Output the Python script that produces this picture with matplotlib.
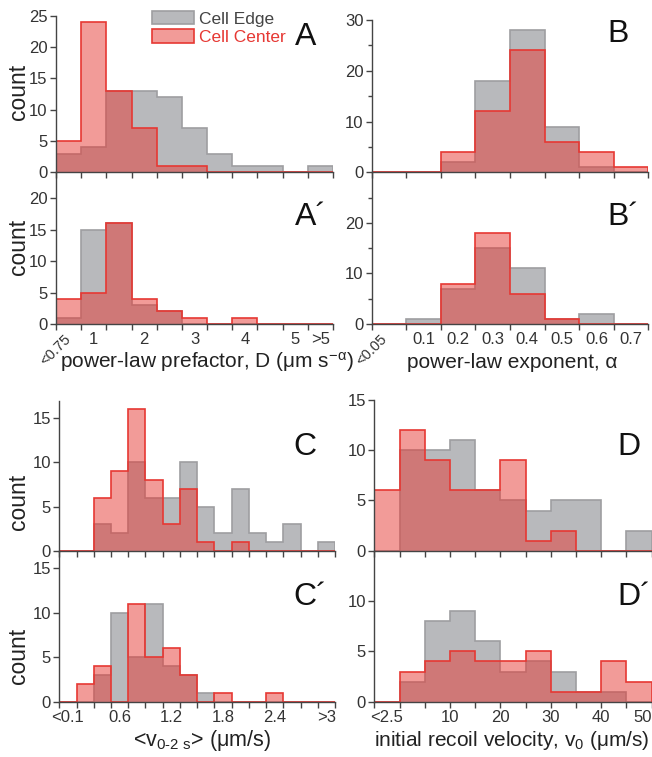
import numpy as np
import matplotlib
matplotlib.use('Agg')
import matplotlib.pyplot as plt
from matplotlib.patches import Patch

plt.rcParams['font.family'] = ['Liberation Sans', 'DejaVu Sans']
plt.rcParams['mathtext.fontset'] = 'custom'
plt.rcParams['mathtext.rm'] = 'Liberation Sans'
plt.rcParams['mathtext.it'] = 'Liberation Sans:italic'
plt.rcParams['mathtext.sf'] = 'Liberation Sans'

# bin edges (last/first bins collect the out-of-range values)
d_edges = np.linspace(0.25, 5.75, 12)
a_edges = np.linspace(-0.05, 0.75, 9)
vm_edges = np.linspace(-0.1, 3.1, 17)
v0_edges = np.linspace(-5, 50, 12)

# counts: cell edge vs cell center
d_edge_A = [3, 4, 13, 13, 12, 7, 3, 1, 1, 0, 1]
d_center_A = [5, 24, 13, 7, 1, 1, 0, 0, 0, 0, 0]
d_edge_A2 = [1, 15, 16, 3, 2, 0, 0, 0, 0, 0, 0]
d_center_A2 = [4, 5, 16, 4, 2, 1, 0, 1, 0, 0, 0]

a_edge_B = [0, 0, 2, 18, 28, 9, 1, 0]
a_center_B = [0, 0, 4, 12, 24, 6, 4, 1]
a_edge_B2 = [0, 1, 7, 15, 11, 1, 2, 0]
a_center_B2 = [0, 0, 8, 18, 6, 1, 0, 0]

vm_edge_C = [0, 0, 3, 2, 10, 6, 6, 10, 5, 2, 7, 2, 1, 3, 0, 1]
vm_center_C = [0, 0, 6, 9, 16, 8, 3, 7, 1, 0, 1, 0, 0, 0, 0, 0]
vm_edge_C2 = [0, 0, 3, 10, 5, 11, 4, 3, 1, 0, 0, 0, 0, 0, 0, 0]
vm_center_C2 = [0, 2, 4, 0, 11, 5, 6, 3, 0, 1, 0, 0, 1, 0, 0, 0]

v0_edge_D = [0, 10, 10, 11, 6, 5, 4, 5, 5, 0, 2]
v0_center_D = [6, 12, 9, 6, 6, 9, 1, 2, 0, 0, 0]
v0_edge_D2 = [0, 2, 8, 9, 6, 3, 4, 3, 1, 1, 0]
v0_center_D2 = [0, 3, 4, 5, 4, 4, 5, 1, 1, 4, 2]

# tick labels
d_ticks = [0.25, 1, 2, 3, 4, 5, 5.5]
d_labels = ['<0.75', '1', '2', '3', '4', '5', '>5']
a_ticks = [-0.05, 0.1, 0.2, 0.3, 0.4, 0.5, 0.6, 0.7]
a_labels = ['<0.05', '0.1', '0.2', '0.3', '0.4', '0.5', '0.6', '0.7']
vm_ticks = [0.0, 0.6, 1.2, 1.8, 2.4, 3.0]
vm_labels = ['<0.1', '0.6', '1.2', '1.8', '2.4', '>3']
v0_ticks = [-2.5, 10, 20, 30, 40, 48.3]
v0_labels = ['<2.5', '10', '20', '30', '40', '50']

GRAY_FILL = (0.45, 0.46, 0.48, 0.5)
GRAY_LINE = (0.62, 0.62, 0.63)
RED_FILL = (0.9, 0.22, 0.2, 0.5)
RED_LINE = (0.9, 0.22, 0.2)
AX_COL = '#444444'

W, H = 652, 757
fig = plt.figure(figsize=(W / 100, H / 100), dpi=100)


def box(left, right, bottom, top):
    return [left / W, 1 - bottom / H, (right - left) / W, (bottom - top) / H]


def panel(rect, edges, gray, red, ymax, yticks, yminor=None):
    ax = fig.add_axes(rect)
    ax.stairs(gray, edges, fill=True, facecolor=GRAY_FILL, edgecolor=GRAY_LINE, lw=1.2)
    ax.stairs(red, edges, fill=True, facecolor=RED_FILL, edgecolor=RED_LINE, lw=1.2)
    ax.set_xlim(edges[0], edges[-1])
    ax.set_ylim(0, ymax)
    for s in ['top', 'right']:
        ax.spines[s].set_visible(False)
    for s in ['left', 'bottom']:
        ax.spines[s].set_color(AX_COL)
        ax.spines[s].set_linewidth(1.0)
    ax.xaxis.remove_overlapping_locs = False
    ax.set_xticks(edges)
    ax.set_xticklabels([])
    ax.set_yticks(yticks)
    if yminor is not None:
        ax.set_yticks(yminor, minor=True)
    ax.tick_params(which='major', direction='out', length=4, width=1, color=AX_COL,
                   labelsize=12, labelcolor='#333333', pad=2)
    ax.tick_params(axis='y', which='minor', direction='out', length=3, width=1, color=AX_COL)
    ax.tick_params(axis='x', which='minor', length=0, labelsize=12, labelcolor='#333333', pad=6)
    ax.set_facecolor('none')
    return ax


def bottom_labels(ax, ticks, labels, rotate_first):
    ax.set_xticks(ticks, labels, minor=True)
    if rotate_first:
        first = ax.get_xticklabels(minor=True)[0]
        first.set_rotation(45)
        first.set_fontsize(10.5)


axA = panel(box(56, 333, 172.3, 15.7), d_edges, d_edge_A, d_center_A, 25, [0, 5, 10, 15, 20, 25])
axA2 = panel(box(56, 333, 324, 172.3), d_edges, d_edge_A2, d_center_A2, 24.15, [0, 5, 10, 15, 20])
bottom_labels(axA2, d_ticks, d_labels, True)

axB = panel(box(371.7, 648.3, 172.3, 20), a_edges, a_edge_B, a_center_B, 30, [0, 10, 20, 30], [5, 15, 25])
axB2 = panel(box(371.7, 648.3, 324, 172.3), a_edges, a_edge_B2, a_center_B2, 30, [0, 10, 20], [5, 15, 25])
bottom_labels(axB2, a_ticks, a_labels, True)

axC = panel(box(59.3, 335, 550.7, 400.6), vm_edges, vm_edge_C, vm_center_C, 17, [0, 5, 10, 15])
axC2 = panel(box(59.3, 335, 701.7, 550.7), vm_edges, vm_edge_C2, vm_center_C2, 17, [0, 5, 10, 15])
bottom_labels(axC2, vm_ticks, vm_labels, False)

axD = panel(box(374.3, 651.7, 550.7, 400), v0_edges, v0_edge_D, v0_center_D, 15, [0, 5, 10, 15])
axD2 = panel(box(374.3, 651.7, 701.7, 550.7), v0_edges, v0_edge_D2, v0_center_D2, 15, [0, 5, 10])
bottom_labels(axD2, v0_ticks, v0_labels, False)

# legend
handles = [Patch(facecolor=GRAY_FILL, edgecolor=GRAY_LINE, lw=1.2, label='Cell Edge'),
           Patch(facecolor=RED_FILL, edgecolor=RED_LINE, lw=1.2, label='Cell Center')]
leg = axA.legend(handles=handles, loc='upper left', bbox_to_anchor=(152 / W, 1 - 11 / H),
                 bbox_transform=fig.transFigure, frameon=False, fontsize=12.5,
                 handlelength=2.4, handleheight=0.8, handletextpad=0.3,
                 labelspacing=0.15, borderpad=0, borderaxespad=0)
leg.get_texts()[0].set_color('#444444')
leg.get_texts()[1].set_color(RED_LINE)


def ftext(x, y, s, **kw):
    fig.text(x / W, 1 - y / H, s, **kw)


# panel letters
for x, y, s in [(295, 45, 'A'), (295, 225, 'A\u00b4'), (607, 42, 'B'), (607, 225, 'B\u00b4'),
                (293, 455, 'C'), (293, 605, 'C\u00b4'), (617, 455, 'D'), (617, 605, 'D\u00b4')]:
    ftext(x, y, s, fontsize=23, ha='left', va='baseline', color='#111111')

for y in [92, 247, 502, 656]:
    ftext(18, y, 'count', fontsize=16.5, rotation=90, ha='center', va='center', color='#222222')

ftext(207, 368, r'power-law prefactor, D (μm s$^{\mathregular{-α}}$)', fontsize=15,
      ha='center', va='baseline', color='#222222')
ftext(512, 368, 'power-law exponent, α', fontsize=15, ha='center', va='baseline', color='#222222')
ftext(202, 746, r'<v$_{\mathregular{0\text{-}2\ s}}$> (μm/s)', fontsize=15.5,
      ha='center', va='baseline', color='#222222')
ftext(512, 746, r'initial recoil velocity, v$_{\mathregular{0}}$ (μm/s)', fontsize=15,
      ha='center', va='baseline', color='#222222')

fig.savefig('out.png', dpi=100)
